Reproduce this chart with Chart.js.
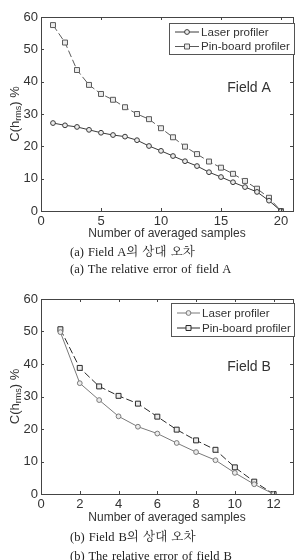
<!DOCTYPE html>
<html><head><meta charset="utf-8">
<script src="https://cdn.jsdelivr.net/npm/chart.js@4"></script>
<style>
body{margin:0;background:#fff;width:298px;height:560px;overflow:hidden;position:relative;}
.c{position:absolute;left:0;width:298px;}
.cap{position:absolute;left:70px;font-size:12.5px;line-height:14px;color:#222;white-space:nowrap;font-family:"Liberation Serif","Noto Serif CJK KR","Noto Sans CJK KR",serif;letter-spacing:0px;word-spacing:1px}
</style></head><body>
<div class="c" style="top:0;height:245px"><canvas id="ca" width="298" height="245"></canvas></div>
<div class="cap" style="top:245px">(a) Field A의 상대 오차</div>
<div class="cap" style="top:262px">(a) The relative error of field A</div>
<div class="c" style="top:280px;height:245px"><canvas id="cb" width="298" height="245"></canvas></div>
<div class="cap" style="top:530px">(b) Field B의 상대 오차</div>
<div class="cap" style="top:549px">(b) The relative error of field B</div>
<script>
const samplesA = [1,2,3,4,5,6,7,8,9,10,11,12,13,14,15,16,17,18,19,20];
const laserA = [27.2,26.5,26.0,25.1,24.2,23.5,23.0,21.9,20.1,18.6,17.0,15.4,13.9,12.0,10.5,8.9,7.4,5.9,3.2,0];
const pinA = [57.5,52.1,43.6,39.0,36.2,34.4,32.1,30.0,28.4,25.6,22.8,19.9,17.6,15.3,13.4,11.5,9.3,6.9,4.1,0];
const samplesB = [1,2,3,4,5,6,7,8,9,10,11,12];
const laserB = [49.8,34.1,28.9,23.9,20.7,18.6,15.7,12.9,10.4,6.5,3.0,0];
const pinB = [50.7,38.8,33.1,30.2,27.8,23.8,19.8,16.5,13.6,8.2,3.8,0];
const yTicks = [0,10,20,30,40,50,60];
const xTicksA = [0,5,10,15,20];
const xTicksB = [0,2,4,6,8,10,12];
const seriesNames = ['Laser profiler','Pin-board profiler'];
const xTitle = 'Number of averaged samples';

const FONT = 'Liberation Sans, Arial, sans-serif';

function pts(xs, ys){ return xs.map((x,i)=>({x:x,y:ys[i]})); }

function makeChart(id, xs, s1, s2, xTicks, xMax, fieldLabel, cfg){
  const framePlugin = {
    id:'frame',
    afterDraw(chart){
      const ctx = chart.ctx, a = chart.chartArea;
      const xs_ = chart.scales.x, ys_ = chart.scales.y;
      ctx.save();
      ctx.strokeStyle = '#444'; ctx.lineWidth = 1;
      ctx.strokeRect(Math.round(a.left)+0.5, Math.round(a.top)+0.5, Math.round(a.right-a.left), Math.round(a.bottom-a.top));
      ctx.beginPath();
      xTicks.forEach(v=>{
        const px = Math.round(xs_.getPixelForValue(v))+0.5;
        ctx.moveTo(px,a.bottom); ctx.lineTo(px,a.bottom-3);
        ctx.moveTo(px,a.top); ctx.lineTo(px,a.top+3);
      });
      yTicks.forEach(v=>{
        const py = Math.round(ys_.getPixelForValue(v))+0.5;
        ctx.moveTo(a.left,py); ctx.lineTo(a.left+3,py);
        ctx.moveTo(a.right,py); ctx.lineTo(a.right-3,py);
      });
      ctx.stroke();
      // y title with subscript
      ctx.translate(15, (a.top+a.bottom)/2);
      ctx.rotate(-Math.PI/2);
      ctx.fillStyle = '#333';
      ctx.textBaseline = 'middle';
      const f1 = '13px '+FONT, f2 = '9px '+FONT;
      ctx.font = f1; const w1 = ctx.measureText('C(h').width, w3 = ctx.measureText(') %').width;
      ctx.font = f2; const w2 = ctx.measureText('rms').width;
      let x0 = -(w1+w2+w3)/2;
      ctx.font = f1; ctx.textAlign='left'; ctx.fillText('C(h', x0, 0);
      ctx.font = f2; ctx.fillText('rms', x0+w1, 4);
      ctx.font = f1; ctx.fillText(') %', x0+w1+w2, 0);
      ctx.restore();
      // field label
      ctx.save();
      ctx.fillStyle = '#333'; ctx.font = '14px '+FONT; ctx.textAlign='center'; ctx.textBaseline='middle';
      ctx.fillText(fieldLabel, 249, cfg.fieldY);
      // legend
      const L = cfg.legend;
      ctx.fillStyle='#fff'; ctx.fillRect(L.x0,L.y0,L.x1-L.x0,L.y1-L.y0);
      ctx.strokeStyle='#555'; ctx.lineWidth=1;
      ctx.strokeRect(L.x0+0.5,L.y0+0.5,L.x1-L.x0,L.y1-L.y0);
      const dsets = chart.data.datasets;
      [L.r1, L.r2].forEach((ry,i)=>{
        const ds = dsets[i];
        ctx.strokeStyle = ds.borderColor; ctx.lineWidth=1; ctx.setLineDash([]);
        ctx.beginPath(); ctx.moveTo(L.lx0, ry+0.5); ctx.lineTo(L.lx1, ry+0.5); ctx.stroke();
        const mx = (L.lx0+L.lx1)/2;
        ctx.fillStyle = ds.pointBackgroundColor; ctx.strokeStyle = ds.pointBorderColor;
        ctx.beginPath();
        if(i===0){ ctx.arc(mx, ry+0.5, 2.4, 0, Math.PI*2); }
        else { ctx.rect(mx-2.5, ry-2, 5, 5); }
        ctx.fill(); ctx.stroke();
        ctx.fillStyle='#333'; ctx.font='11.6px '+FONT; ctx.textAlign='left'; ctx.textBaseline='middle';
        ctx.fillText(seriesNames[i], L.tx, ry+1);
      });
      ctx.restore();
    }
  };
  return new Chart(document.getElementById(id), {
    type:'line',
    data:{datasets:[
      {label:seriesNames[0], data:pts(xs,s1), borderColor:cfg.c1, borderWidth:1, pointStyle:'circle', pointRadius:2.4,
       pointBackgroundColor:'#ececec', pointBorderColor:cfg.c1, pointBorderWidth:1, tension:0},
      {label:seriesNames[1], data:pts(xs,s2), borderColor:cfg.c2, borderWidth:1, borderDash:[7,3], pointStyle:'rect', pointRadius:3.5,
       pointBackgroundColor:'#ececec', pointBorderColor:cfg.c2, pointBorderWidth:1, tension:0}
    ]},
    options:{
      responsive:false, animation:false, devicePixelRatio:1,
      layout:{padding:{left:0,right:2,top:cfg.top,bottom:0}},
      plugins:{legend:{display:false}, tooltip:{enabled:false}},
      scales:{
        x:{type:'linear', min:0, max:xMax,
          afterBuildTicks(s){ s.ticks = xTicks.map(v=>({value:v})); },
          afterFit(s){ s.height = cfg.xH; },
          grid:{display:false, drawTicks:false}, border:{display:false},
          ticks:{padding:3, color:'#333', font:{family:FONT,size:13}, maxRotation:0, autoSkip:false},
          title:{display:true, text:xTitle, color:'#333', font:{family:FONT,size:12}, padding:{top:0,bottom:cfg.xTitlePad}}
        },
        y:{type:'linear', min:0, max:60,
          afterBuildTicks(s){ s.ticks = yTicks.map(v=>({value:v})); },
          afterFit(s){ s.width = 41; },
          grid:{display:false, drawTicks:false}, border:{display:false},
          ticks:{padding:3, color:'#333', font:{family:FONT,size:13}}
        }
      }
    },
    plugins:[framePlugin]
  });
}

makeChart('ca', samplesA, laserA, pinA, xTicksA, 21, 'Field A', {
  top:17, xH:34, xTitlePad:4, fieldY:88, c1:'#3a3a3a', c2:'#5a5a5a',
  legend:{x0:169,y0:23,x1:294,y1:54, lx0:175, lx1:199, tx:201, r1:31.5, r2:46}
});
makeChart('cb', samplesB, laserB, pinB, xTicksB, 13, 'Field B', {
  top:19, xH:31, xTitlePad:0, fieldY:87, c1:'#7a7a7a', c2:'#2a2a2a',
  legend:{x0:171,y0:23,x1:294,y1:56, lx0:177, lx1:200, tx:202, r1:32.5, r2:47.5}
});
</script>
</body></html>
